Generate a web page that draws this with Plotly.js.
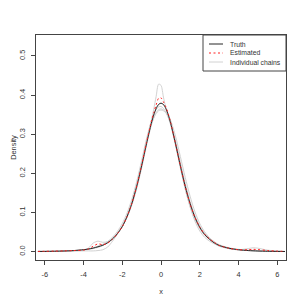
<!DOCTYPE html>
<html>
<head>
<meta charset="utf-8">
<script src="https://cdn.plot.ly/plotly-3.0.1.min.js"></script>
<style>html,body{margin:0;padding:0;background:#fff;}#chart{width:305px;height:305px;}</style>
</head>
<body>
<div id="chart"></div>
<script>
const xs = [-6.35,-6,-5.5,-5,-4.5,-4,-3.75,-3.5,-3.25,-3,-2.75,-2.5,-2.25,-2,-1.75,-1.5,-1.25,-1,-0.75,-0.5,-0.375,-0.25,-0.125,0,0.125,0.25,0.375,0.5,0.75,1,1.25,1.5,1.75,2,2.25,2.5,2.75,3,3.5,4,4.5,4.75,5,5.5,6,6.4];

const truth = [0.0006,0.0007,0.0011,0.0018,0.0029,0.0051,0.0068,0.0092,0.0126,0.0165,0.0230,0.0325,0.0460,0.0640,0.0900,0.1240,0.1675,0.2195,0.2755,0.3280,0.3493,0.3657,0.3761,0.3796,0.3761,0.3657,0.3493,0.3279,0.2757,0.2190,0.1670,0.1230,0.0880,0.0620,0.0440,0.0320,0.0225,0.0160,0.0090,0.0051,0.0029,0.0023,0.0018,0.0011,0.0007,0.0005];

const estimated = [0.0008,0.0010,0.0015,0.0020,0.0030,0.0040,0.0070,0.0140,0.0200,0.0180,0.0220,0.0320,0.0460,0.0640,0.0900,0.1240,0.1680,0.2210,0.2790,0.3320,0.3550,0.3750,0.3920,0.3930,0.3830,0.3700,0.3520,0.3300,0.2760,0.2200,0.1670,0.1220,0.0880,0.0630,0.0450,0.0330,0.0240,0.0160,0.0090,0.0050,0.0050,0.0060,0.0055,0.0030,0.0015,0.0009];

const chain1 = [0.0005,0.0007,0.0010,0.0017,0.0028,0.0045,0.0060,0.0080,0.0110,0.0160,0.0230,0.0330,0.0470,0.0640,0.0880,0.1200,0.1630,0.2160,0.2750,0.3350,0.3640,0.3970,0.4280,0.4250,0.3950,0.3670,0.3450,0.3250,0.2720,0.2140,0.1600,0.1160,0.0830,0.0590,0.0420,0.0310,0.0220,0.0150,0.0080,0.0045,0.0030,0.0025,0.0020,0.0012,0.0008,0.0005];

const chain2 = [0.0008,0.0010,0.0015,0.0020,0.0030,0.0040,0.0090,0.0220,0.0270,0.0240,0.0260,0.0350,0.0480,0.0660,0.0920,0.1270,0.1700,0.2210,0.2760,0.3230,0.3420,0.3550,0.3630,0.3650,0.3620,0.3550,0.3430,0.3270,0.2810,0.2270,0.1740,0.1280,0.0920,0.0660,0.0470,0.0340,0.0250,0.0170,0.0090,0.0050,0.0030,0.0025,0.0020,0.0012,0.0008,0.0005];

const chain3 = [0.0003,0.0004,0.0006,0.0010,0.0015,0.0020,0.0020,0.0020,0.0030,0.0050,0.0120,0.0270,0.0450,0.0640,0.0900,0.1250,0.1710,0.2250,0.2800,0.3250,0.3410,0.3530,0.3600,0.3620,0.3600,0.3550,0.3470,0.3350,0.2950,0.2430,0.1900,0.1420,0.1020,0.0720,0.0510,0.0360,0.0250,0.0170,0.0080,0.0050,0.0080,0.0100,0.0090,0.0040,0.0015,0.0007];

const chain4 = [0.0006,0.0008,0.0012,0.0019,0.0030,0.0050,0.0070,0.0100,0.0140,0.0190,0.0260,0.0370,0.0520,0.0720,0.0990,0.1350,0.1800,0.2330,0.2880,0.3340,0.3510,0.3630,0.3700,0.3710,0.3660,0.3570,0.3430,0.3240,0.2730,0.2160,0.1610,0.1140,0.0780,0.0530,0.0370,0.0270,0.0200,0.0140,0.0080,0.0050,0.0030,0.0025,0.0020,0.0012,0.0008,0.0005];

const chain5 = [0.0006,0.0008,0.0012,0.0018,0.0028,0.0045,0.0065,0.0100,0.0140,0.0180,0.0240,0.0340,0.0470,0.0650,0.0890,0.1210,0.1630,0.2140,0.2710,0.3250,0.3480,0.3660,0.3760,0.3790,0.3760,0.3670,0.3520,0.3320,0.2820,0.2260,0.1720,0.1260,0.0900,0.0640,0.0460,0.0340,0.0250,0.0180,0.0100,0.0060,0.0040,0.0035,0.0030,0.0020,0.0010,0.0006];

const chains = [chain1, chain2, chain3, chain4, chain5];
const xTicks = [-6,-4,-2,0,2,4,6];
const yTicks = [0,0.1,0.2,0.3,0.4,0.5];
const yTickText = ['0.0','0.1','0.2','0.3','0.4','0.5'];
const legendLabels = ['Truth','Estimated','Individual chains'];

const GRAY = '#d2d2d2';
const FONT = 'Liberation Sans, Arial, sans-serif';
const traces = [];
chains.forEach((c) => {
  traces.push({x: xs, y: c, type: 'scatter', mode: 'lines', name: 'Individual chains',
    line: {color: GRAY, width: 1, shape: 'spline', smoothing: 0.8}, hoverinfo: 'skip', showlegend: false});
});
traces.push({x: xs, y: truth, type: 'scatter', mode: 'lines', name: 'Truth',
  line: {color: '#262626', width: 1, shape: 'spline', smoothing: 0.8}, showlegend: false});
traces.push({x: xs, y: estimated, type: 'scatter', mode: 'lines', name: 'Estimated',
  line: {color: '#ff2020', width: 1, dash: '2px,2.5px', shape: 'spline', smoothing: 0.8}, showlegend: false});

// legend (drawn in paper coordinates, top-right inside the box)
const lgX0 = 0.668, lgX1 = 1.0, lgY0 = 0.84, lgY1 = 1.0;
const rowsY = [0.96, 0.92, 0.88];
const rowStyles = [
  {color: '#262626', width: 1},
  {color: '#ff2020', width: 1, dash: '2px,2.5px'},
  {color: GRAY, width: 1}
];
const shapes = [{type: 'rect', xref: 'paper', yref: 'paper', x0: lgX0, x1: lgX1, y0: lgY0, y1: lgY1,
  line: {color: '#444', width: 1}, fillcolor: 'rgba(255,255,255,1)', layer: 'above'}];
const annotations = [];
rowsY.forEach((yy, i) => {
  shapes.push({type: 'line', xref: 'paper', yref: 'paper', x0: 0.692, x1: 0.748, y0: yy, y1: yy,
    line: rowStyles[i], layer: 'above'});
  annotations.push({xref: 'paper', yref: 'paper', x: 0.768, y: yy, xanchor: 'left', yanchor: 'middle',
    text: legendLabels[i], showarrow: false, font: {size: 6.8, color: '#333', family: FONT}});
});

const layout = {
  width: 305, height: 305,
  margin: {l: 36, r: 19, t: 35, b: 45},
  paper_bgcolor: '#fff', plot_bgcolor: '#fff',
  font: {family: FONT, size: 7.4, color: '#333'},
  showlegend: false,
  xaxis: {
    range: [-6.45, 6.45], tickmode: 'array', tickvals: xTicks, ticktext: xTicks.map(String),
    ticks: 'outside', ticklen: 4, tickcolor: '#444', tickwidth: 1,
    showline: true, mirror: true, linecolor: '#444', linewidth: 1,
    showgrid: false, zeroline: false, ticklabelstandoff: 3,
    title: {text: 'x', font: {size: 7.4, color: '#333'}, standoff: 10}
  },
  yaxis: {
    range: [-0.0212, 0.5536], tickmode: 'array', tickvals: yTicks, ticktext: yTickText,
    tickangle: -90,
    ticks: 'outside', ticklen: 4, tickcolor: '#444', tickwidth: 1,
    showline: true, mirror: true, linecolor: '#444', linewidth: 1,
    showgrid: false, zeroline: false, ticklabelstandoff: 3,
    title: {text: 'Density', font: {size: 7.4, color: '#333'}, standoff: 0}
  },
  shapes: shapes,
  annotations: annotations
};

Plotly.newPlot('chart', traces, layout, {displayModeBar: false, staticPlot: true});
</script>
</body>
</html>
